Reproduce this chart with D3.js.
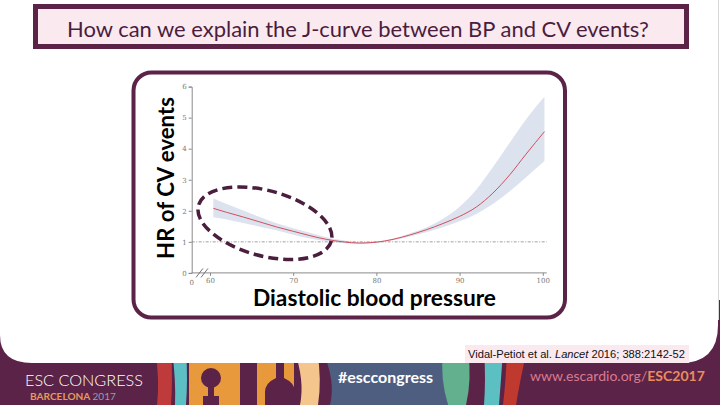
<!DOCTYPE html>
<html>
<head>
<meta charset="utf-8">
<script src="https://cdn.jsdelivr.net/npm/d3@7"></script>
<style>
  html, body { margin: 0; padding: 0; background: #ffffff; }
  svg { display: block; }
</style>
</head>
<body>
<svg id="chart" width="720" height="405"></svg>
<script>
// ---------------- data ----------------
const dbp   = [60.4, 62, 64, 66, 68, 70, 72, 74, 76, 78, 80, 82, 84, 86, 88, 90, 92, 94, 96, 98, 100.2];
const hr    = [2.08, 1.95, 1.80, 1.64, 1.48, 1.34, 1.20, 1.08, 1.00, 0.96, 0.99, 1.08, 1.22, 1.39, 1.59, 1.82, 2.12, 2.57, 3.15, 3.83, 4.55];
const lower = [1.79, 1.72, 1.61, 1.49, 1.37, 1.23, 1.11, 1.02, 0.96, 0.94, 0.97, 1.05, 1.17, 1.31, 1.47, 1.66, 1.90, 2.22, 2.62, 3.08, 3.60];
const upper = [2.40, 2.22, 2.01, 1.80, 1.60, 1.44, 1.29, 1.15, 1.05, 0.99, 1.01, 1.11, 1.27, 1.46, 1.74, 2.13, 2.68, 3.40, 4.18, 4.95, 5.67];
const xTicks = [60, 70, 80, 90, 100];
const yTicks = [0, 1, 2, 3, 4, 5, 6];
const refHR = 1;
const titleText = "How can we explain the J-curve between BP and CV events?";
const yLabel = "HR of CV events";
const xLabel = "Diastolic blood pressure";
const citation = ["Vidal-Petiot et al. ", "Lancet", " 2016; 388:2142-52"];

const svg = d3.select("#chart");
const PURPLE = "#5b2347";

// fit text to a target width
function fit(sel, target) {
  const w = sel.node().getComputedTextLength();
  const fs = parseFloat(sel.attr("font-size"));
  sel.attr("font-size", (fs * target / w).toFixed(2));
}

// ---------------- footer background ----------------
const foot = svg.append("g");
foot.append("rect").attr("x", 0).attr("y", 300).attr("width", 720).attr("height", 105).attr("fill", PURPLE);
const stripes = [
  {c: "#bf3a3a", d: "M155,350 Q160,380 157,405 L171,405 Q173,380 171,350 Z"},
  {c: "#5dbec4", d: "M172,350 Q176,380 175,405 L186,405 Q188,380 186,350 Z"},
  {c: "#e8993c", d: "M189,350 L240,350 L240,405 L189,405 Z"},
  {c: "#e8993c", d: "M257,350 L294,350 L294,405 L257,405 Z"},
  {c: "#f5c58e", d: "M294,350 Q305,380 300,405 L318,405 Q322,380 317,350 Z"},
  {c: "#4e5e80", d: "M322,350 L445,350 Q440,380 448,405 L330,405 Q336,380 322,350 Z"},
  {c: "#62b08e", d: "M443,350 L468,350 Q472,380 466,405 L448,405 Q440,380 443,350 Z"},
  {c: "#5cbfc1", d: "M484,350 L503,350 Q501,380 499,405 L484,405 Q486,380 484,350 Z"},
  {c: "#c0392f", d: "M507,350 L527,350 Q520,380 516,405 L503,405 Q506,380 507,350 Z"}
];
foot.selectAll("path.stripe").data(stripes).enter().append("path")
  .attr("class", "stripe").attr("d", d => d.d).attr("fill", d => d.c);
foot.append("circle").attr("cx", 211).attr("cy", 378).attr("r", 10).attr("fill", PURPLE);
foot.append("rect").attr("x", 208).attr("y", 386).attr("width", 6).attr("height", 12).attr("fill", PURPLE);
foot.append("rect").attr("x", 203).attr("y", 396).attr("width", 16).attr("height", 9).attr("fill", PURPLE);
foot.append("path").attr("d", "M276,350 L284,350 L284,378 Q295,383 295,392 L295,405 L265,405 L265,392 Q265,383 276,378 Z").attr("fill", PURPLE);

// white main panel with rounded bottom corners
svg.append("path")
  .attr("d", "M-5,-5 L718,-5 L718,325 Q718,363 680,363 L32,363 Q0,363 0,335 L-5,335 Z")
  .attr("fill", "#ffffff");
svg.append("line").attr("x1", 718.5).attr("x2", 718.5).attr("y1", 0).attr("y2", 320)
  .attr("stroke", "#d8d8d8").attr("stroke-width", 1);

// footer texts
const esc = svg.append("text").attr("x", 25).attr("y", 385.5).attr("font-family", "Lato").attr("font-weight", 300)
  .attr("font-size", 16).attr("fill", "#ffffff").text("ESC CONGRESS");
fit(esc, 118);
const bar = svg.append("text").attr("x", 30).attr("y", 399.5).attr("font-family", "Lato").attr("font-weight", 700)
  .attr("font-size", 8);
bar.append("tspan").attr("fill", "#e39a5c").text("BARCELONA ");
bar.append("tspan").attr("fill", "#8f9fb8").attr("font-weight", 400).text("2017");
fit(bar, 86);
const hash = svg.append("text").attr("x", 338).attr("y", 383).attr("font-family", "Lato").attr("font-weight", 700)
  .attr("font-size", 17).attr("fill", "#ffffff").text("#esccongress");
fit(hash, 95);
const web = svg.append("text").attr("x", 530).attr("y", 381).attr("font-family", "Lato").attr("font-size", 15);
web.append("tspan").attr("fill", "#d97b8f").text("www.escardio.org/");
web.append("tspan").attr("fill", "#e98d5c").attr("font-weight", 700).text("ESC2017");
fit(web, 175);

// citation
svg.append("rect").attr("x", 465).attr("y", 345).attr("width", 224).attr("height", 18).attr("fill", "#fbe9f0");
const cit = svg.append("text").attr("x", 468).attr("y", 358).attr("font-family", "Liberation Sans Narrow, Liberation Sans")
  .attr("font-size", 10.5).attr("fill", "#111");
cit.append("tspan").text(citation[0]);
cit.append("tspan").attr("font-style", "italic").text(citation[1]);
cit.append("tspan").text(citation[2]);
fit(cit, 217);

// ---------------- title box ----------------
svg.append("rect").attr("x", 35.5).attr("y", 6.5).attr("width", 651).attr("height", 40)
  .attr("fill", "#fbe9f0").attr("stroke", PURPLE).attr("stroke-width", 5);
const title = svg.append("text").attr("x", 358).attr("y", 37).attr("text-anchor", "middle")
  .attr("font-family", "Lato").attr("font-size", 20).attr("fill", "#4a1d3d").text(titleText);
fit(title, 582);

// ---------------- chart frame ----------------
svg.append("rect").attr("x", 133.5).attr("y", 72.5).attr("width", 431.5).attr("height", 245)
  .attr("rx", 18).attr("ry", 18).attr("fill", "#ffffff").attr("stroke", PURPLE).attr("stroke-width", 4);

// ---------------- scales ----------------
const x = d3.scaleLinear().domain([60, 100]).range([210, 542.8]);
const y = d3.scaleLinear().domain([0, 6]).range([272.9, 86.6]);
const x0 = 191.7, xEnd = 546.7;

const rows = dbp.map((d, i) => ({x: d, hr: hr[i], lo: lower[i], hi: upper[i]}));

// confidence band
svg.append("path").datum(rows)
  .attr("d", d3.area().x(d => x(d.x)).y0(d => y(d.lo)).y1(d => y(d.hi)).curve(d3.curveMonotoneX))
  .attr("fill", "#dde2ef");

// reference line
svg.append("line").attr("x1", x0).attr("x2", xEnd).attr("y1", y(refHR)).attr("y2", y(refHR))
  .attr("stroke", "#8a8a8a").attr("stroke-width", 0.8).attr("stroke-dasharray", "3,1.5,1,1.5");

// HR line
svg.append("path").datum(rows)
  .attr("d", d3.line().x(d => x(d.x)).y(d => y(d.hr)).curve(d3.curveMonotoneX))
  .attr("fill", "none").attr("stroke", "#d2505c").attr("stroke-width", 1);

// axes
const axisCol = "#8a8a8a";
const gy = svg.append("g").attr("transform", `translate(${x0},0)`)
  .call(d3.axisLeft(y).tickValues(yTicks).tickSize(3).tickPadding(2).tickFormat(d3.format("d")));
const gx = svg.append("g").attr("transform", `translate(0,${y(0)})`)
  .call(d3.axisBottom(x).tickValues(xTicks).tickSize(3).tickPadding(2).tickFormat(d3.format("d")));
gx.select(".domain").remove();
svg.append("line").attr("x1", x0).attr("x2", xEnd).attr("y1", y(0)).attr("y2", y(0))
  .attr("stroke", axisCol).attr("stroke-width", 1);
[gx, gy].forEach(g => {
  g.selectAll(".domain, .tick line").attr("stroke", axisCol);
  g.selectAll("text").attr("fill", "#777").attr("font-size", 7).attr("font-family", "DejaVu Serif");
});
svg.append("text").attr("x", x0).attr("y", y(0) + 3 + 2 + 7).attr("text-anchor", "middle")
  .attr("font-size", 7).attr("font-family", "DejaVu Serif").attr("fill", "#777").text("0");
[0, 5].forEach(o => {
  svg.append("line").attr("x1", 196 + o).attr("y1", y(0) + 4.5).attr("x2", 203 + o).attr("y2", y(0) - 4.5)
    .attr("stroke", "#666").attr("stroke-width", 0.9);
});

// axis titles
const yl = svg.append("text").attr("transform", `translate(174,${178}) rotate(-90)`).attr("text-anchor", "middle")
  .attr("font-family", "Lato").attr("font-weight", 700).attr("font-size", 20).attr("fill", "#000").text(yLabel);
fit(yl, 162);
const xl = svg.append("text").attr("x", 374.5).attr("y", 306).attr("text-anchor", "middle")
  .attr("font-family", "Lato").attr("font-weight", 700).attr("font-size", 20).attr("fill", "#000").text(xLabel);
fit(xl, 243);

// dashed ellipse annotation (centered in data space)
const eCx = 66.6, eCy = 1.6;
svg.append("ellipse")
  .attr("cx", 0).attr("cy", 0).attr("rx", 68.8).attr("ry", 32.7)
  .attr("transform", `translate(${x(eCx)},${y(eCy)}) rotate(15)`)
  .attr("fill", "none").attr("stroke", "#4a1e3c").attr("stroke-width", 3.5).attr("stroke-dasharray", "10,5");
</script>
</body>
</html>
